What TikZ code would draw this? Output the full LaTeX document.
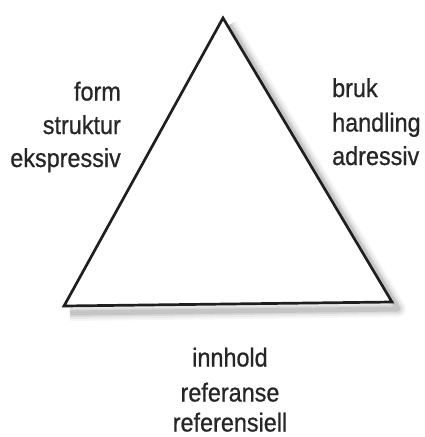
\documentclass[tikz,border=0pt]{standalone}
\usepackage{fontspec}
\setmainfont{Liberation Sans}
\newfontfamily\lblfont[FakeBold=0.8]{Liberation Sans}
\begin{document}
\begin{tikzpicture}[x=1pt,y=-1pt,
  lbl/.style={inner sep=0pt,xscale=0.9,transform shape,font=\lblfont\fontsize{26}{30}\selectfont,text=black!85},
  edge/.style={line width=2.7pt,black!88,line join=miter}]
\useasboundingbox (0,0) rectangle (424,437);
\coordinate (T) at (223,18);
\coordinate (L) at (64,306);
\coordinate (R) at (392,302);
% soft shadow
\foreach \w/\o in {16/0.04,12/0.05,8/0.07,5/0.09}{
  \draw[line width=\w pt,black,opacity=\o,line join=round] ([shift={(6,7)}]T) -- ([shift={(6,7)}]R) -- ([shift={(6,7)}]L);
}
\fill[white] (T) -- (R) -- (L) -- cycle;
\draw[edge] (T) -- (R) -- (L) -- cycle;
% left labels
\node[lbl,anchor=base east] (l1) at (121,100.5) {form};
\node[lbl,anchor=base east] (l2) at (121,134) {struktur};
\node[lbl,anchor=base east] (l3) at (121,167) {ekspressiv};
% right labels
\node[lbl,anchor=base west] (r1) at (332,97) {bruk};
\node[lbl,anchor=base west] (r2) at (332,131.5) {handling};
\node[lbl,anchor=base west] (r3) at (332,165) {adressiv};
% bottom labels
\node[lbl,anchor=base] (b1) at (230,366.5) {innhold};
\node[lbl,anchor=base] (b2) at (230,401.5) {referanse};
\node[lbl,anchor=base] (b3) at (230,431.5) {referensiell};
\end{tikzpicture}
\end{document}
